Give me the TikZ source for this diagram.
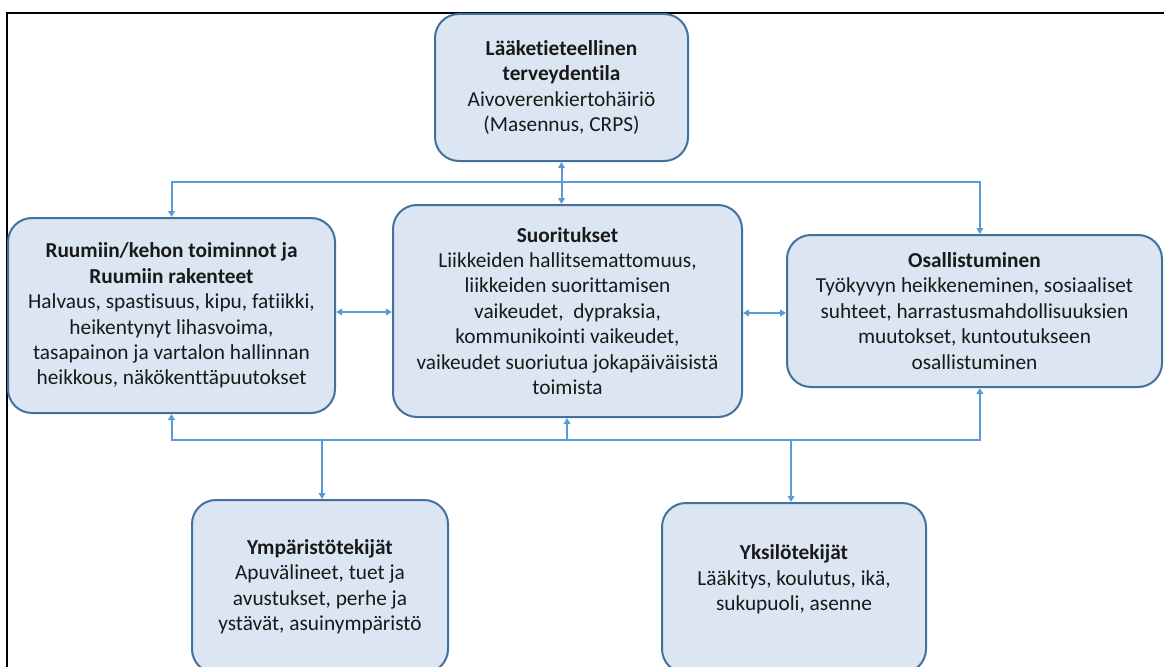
\documentclass[tikz,border=0pt]{standalone}
\usepackage{fontspec}
\setmainfont{Carlito}[Ligatures={NoCommon,NoRequired,NoContextual}]
\usetikzlibrary{arrows.meta,calc}
\definecolor{boxfill}{RGB}{220,230,242}
\definecolor{boxline}{RGB}{65,113,156}
\definecolor{connc}{RGB}{91,155,213}
\tikzset{
  box/.style={draw=boxline, fill=boxfill, line width=1.5pt, rounded corners=18pt,
    align=center, font=\fontsize{16pt}{19.1pt}\selectfont, inner sep=0pt, text=black!90},
  link/.style={draw=connc, line width=1.5pt, -{Triangle[length=4.5pt,width=5pt]}},
  dlink/.style={draw=connc, line width=1.5pt, {Triangle[length=4.5pt,width=5pt]}-{Triangle[length=4.5pt,width=5pt]}},
}
\begin{document}
\begin{tikzpicture}[x=0.75pt,y=-0.75pt]
\useasboundingbox (0,0) rectangle (1164,667);
\clip (0,0) rectangle (1164,667);
\draw[line width=1.5pt] (7,720) |- (1220,13);

\node[box, minimum width=189.75pt, minimum height=110.25pt] (T) at (561.5,87.5)
  {\textbf{Lääketieteellinen}\\\textbf{terveydentila}\\Aivoverenkiertohäiriö\\(Masennus, CRPS)};
\node[box, minimum width=245.25pt, minimum height=146.25pt] (L) at (171.5,315.5)
  {\textbf{Ruumiin/kehon toiminnot ja}\\\textbf{Ruumiin rakenteet}\\Halvaus, spastisuus, kipu, fatiikki,\\heikentynyt lihasvoima,\\tasapainon ja vartalon hallinnan\\heikkous, näkökenttäpuutokset};
\node[box, minimum width=261.75pt, minimum height=159pt] (M) at (567.5,311)
  {\textbf{Suoritukset}\\Liikkeiden hallitsemattomuus,\\liikkeiden suorittamisen\\vaikeudet,\ \ dypraksia,\\kommunikointi vaikeudet,\\vaikeudet suoriutua jokapäiväisistä\\toimista};
\node[box, minimum width=281.25pt, minimum height=114pt] (R) at (974.5,311)
  {\textbf{Osallistuminen}\\Työkyvyn heikkeneminen, sosiaaliset\\suhteet, harrastusmahdollisuuksien\\muutokset, kuntoutukseen\\osallistuminen};
\node[box, minimum width=192pt, minimum height=129.75pt] (E) at (320,586.5)
  {\textbf{Ympäristötekijät}\\Apuvälineet, tuet ja\\avustukset, perhe ja\\ystävät, asuinympäristö};
\node[box, minimum width=198pt, minimum height=127.5pt] (P) at (794,588)
  {\textbf{Yksilötekijät}\\Lääkitys, koulutus, ikä,\\sukupuoli, asenne\\[-4pt]\mbox{}};

\coordinate (tbus) at (562,181.5);
\coordinate (bbus) at (567,440);

\draw[dlink] (T.south) -- (T.south |- M.north);
\draw[link] (tbus) -| (L.north);
\draw[link] (tbus) -| ([xshift=4pt]R.north);

\draw[dlink] ([yshift=2.6pt]L.east) -- ([yshift=2.6pt]L.east -| M.west);
\draw[dlink] ([yshift=-1.5pt]M.east) -- ([yshift=-1.5pt]M.east -| R.west);

\draw[link] (bbus) -| (L.south);
\draw[link] (bbus) -- (bbus |- M.south);
\draw[link] (bbus) -| ([xshift=4pt]R.south);
\draw[link] ([xshift=1.5pt]E.north |- bbus) -- ([xshift=1.5pt]E.north);
\draw[link] ([xshift=-2.25pt]P.north |- bbus) -- ([xshift=-2.25pt]P.north);
\end{tikzpicture}
\end{document}
